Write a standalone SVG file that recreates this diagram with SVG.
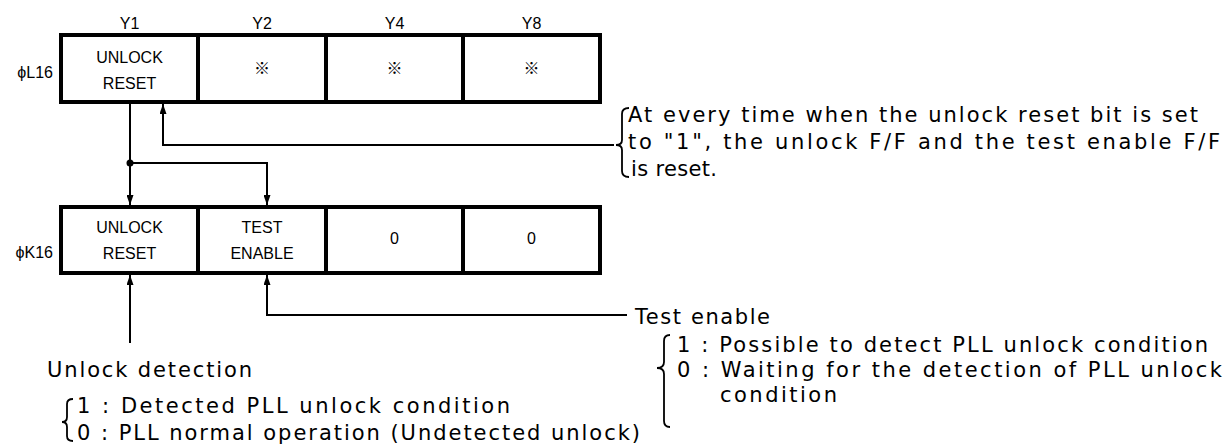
<svg xmlns="http://www.w3.org/2000/svg" width="1226" height="444" viewBox="0 0 1226 444">
<defs>
<marker id="ah" markerUnits="userSpaceOnUse" markerWidth="10" markerHeight="7" refX="10" refY="3.5" orient="auto"><path d="M0,0 L10,3.5 L0,7 Z" fill="#000"/></marker>
</defs>
<style>
.cell{fill:#fff;stroke:#000;stroke-width:4}
.t{font-family:"Liberation Sans",Arial,sans-serif;font-size:16px;fill:#000}
.c{text-anchor:middle}
.e{text-anchor:end}
.big{font-family:"DejaVu Sans","Liberation Sans",sans-serif;font-size:21px;fill:#000}
.k{font-family:"Noto Sans CJK JP","Noto Sans",sans-serif;font-size:16px;fill:#000;text-anchor:middle}
.wire{fill:none;stroke:#000;stroke-width:2}
.arr{marker-end:url(#ah)}
.brace{fill:none;stroke:#000;stroke-width:1.8}
</style>
<rect width="1226" height="444" fill="#fff"/>

<g id="headers">
<text class="t c" x="129.5" y="29">Y1</text>
<text class="t c" x="262" y="29">Y2</text>
<text class="t c" x="394.5" y="29">Y4</text>
<text class="t c" x="531.5" y="29">Y8</text>
</g>

<g id="regL16">
<text class="t e" x="53" y="78">ϕL16</text>
<g id="L16-Y1"><rect class="cell" x="61" y="35" width="137" height="67"/><text class="t c" x="129.5" y="63">UNLOCK</text><text class="t c" x="129.5" y="89">RESET</text></g>
<g id="L16-Y2"><rect class="cell" x="198" y="35" width="128" height="67"/><text class="k" x="262" y="74">※</text></g>
<g id="L16-Y4"><rect class="cell" x="326" y="35" width="137" height="67"/><text class="k" x="394.5" y="74">※</text></g>
<g id="L16-Y8"><rect class="cell" x="463" y="35" width="137" height="67"/><text class="k" x="531.5" y="74">※</text></g>
</g>

<g id="regK16">
<text class="t e" x="53" y="258">ϕK16</text>
<g id="K16-Y1"><rect class="cell" x="61" y="207" width="137" height="66"/><text class="t c" x="129.5" y="233">UNLOCK</text><text class="t c" x="129.5" y="259">RESET</text></g>
<g id="K16-Y2"><rect class="cell" x="198" y="207" width="128" height="66"/><text class="t c" x="262" y="233">TEST</text><text class="t c" x="262" y="259">ENABLE</text></g>
<g id="K16-Y4"><rect class="cell" x="326" y="207" width="137" height="66"/><text class="t c" x="394.5" y="244">0</text></g>
<g id="K16-Y8"><rect class="cell" x="463" y="207" width="137" height="66"/><text class="t c" x="531.5" y="244">0</text></g>
</g>

<g id="connectors">
<path class="wire arr" d="M130,104 V205"/>
<path class="wire arr" d="M130,163 H267 V205"/>
<path class="wire arr" d="M614,145 H163 V104"/>
<path class="wire arr" d="M130,343 V275"/>
<path class="wire arr" d="M627,315 H267 V275"/>
<circle cx="130" cy="163" r="3.5" fill="#000"/>
</g>

<g id="note-reset">
<path class="brace" d="M629,108 Q622,108 622,114 L622,140 Q622,145 616,145 Q622,145 622,150 L622,171 Q622,177 629,177"/>
<text class="big" x="628" y="122" textLength="570" lengthAdjust="spacing">At every time when the unlock reset bit is set</text>
<text class="big" x="628" y="149" textLength="592" lengthAdjust="spacing">to "1", the unlock F/F and the test enable F/F</text>
<text class="big" x="631" y="176" textLength="86" lengthAdjust="spacing">is reset.</text>
</g>

<g id="note-test">
<text class="big" x="635" y="324" textLength="135" lengthAdjust="spacing">Test enable</text>
<path class="brace" d="M670,335 Q664,335 664,341 L664,362 Q664,368 657,368 Q664,368 664,374 L664,421 Q664,427 670,427"/>
<text class="big" x="677" y="352" textLength="531" lengthAdjust="spacing">1 : Possible to detect PLL unlock condition</text>
<text class="big" x="677" y="377" textLength="545" lengthAdjust="spacing">0 : Waiting for the detection of PLL unlock</text>
<text class="big" x="720" y="402" textLength="117" lengthAdjust="spacing">condition</text>
</g>

<g id="note-unlock">
<text class="big" x="47" y="377" textLength="205" lengthAdjust="spacing">Unlock detection</text>
<path class="brace" d="M73,399 Q67,399 67,404 L67,417 Q67,422 62,422 Q67,422 67,427 L67,436 Q67,441 73,441"/>
<text class="big" x="77" y="413" textLength="433" lengthAdjust="spacing">1 : Detected PLL unlock condition</text>
<text class="big" x="77" y="440" textLength="563" lengthAdjust="spacing">0 : PLL normal operation (Undetected unlock)</text>
</g>
</svg>
